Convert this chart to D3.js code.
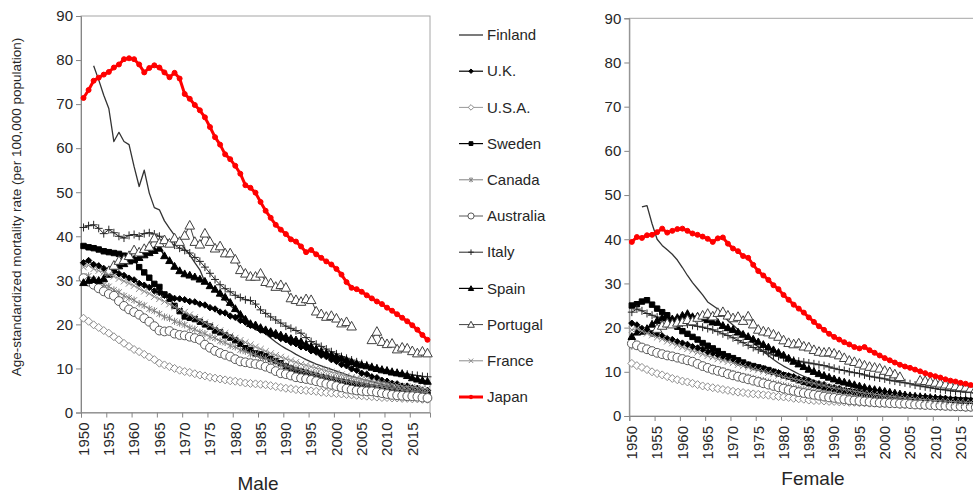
<!DOCTYPE html>
<html>
<head>
<meta charset="utf-8">
<script src="https://cdn.jsdelivr.net/npm/d3@7"></script>
<style>
  body { margin: 0; background: #fff; }
  text { font-family: "Liberation Sans", Arial, sans-serif; fill: #262626; }
</style>
</head>
<body>
<svg width="973" height="494"></svg>
<script>
// categories and tick labels
var years = d3.range(1950, 2019);
var yearLabels = [1950, 1955, 1960, 1965, 1970, 1975, 1980, 1985, 1990, 1995, 2000, 2005, 2010, 2015];
var yTicks = [0, 10, 20, 30, 40, 50, 60, 70, 80, 90];
var countries = ["Finland", "U.K.", "U.S.A.", "Sweden", "Canada", "Australia", "Italy", "Spain", "Portugal", "France", "Japan"];

// Male, 1950-2018
var finlandM = [null,null,78.7,75.5,72.0,69.0,61.5,63.6,61.5,60.8,
  55.8,51.3,55.0,49.8,46.5,46.0,43.5,41.8,40.2,38.8,
  37.2,35.8,34.0,32.4,29.6,28.8,27.8,26.5,25.5,24.3,
  23.3,22.0,20.5,19.8,19.3,18.8,17.8,16.9,16.0,15.2,
  14.5,13.9,13.2,12.6,12.0,11.5,11.0,10.6,10.2,9.8,
  9.4,9.0,8.6,8.2,7.9,7.6,7.3,7.0,6.7,6.4,
  6.1,5.9,5.6,5.4,5.2,5.0,4.8,4.7,4.5];
var ukM = [34.0,34.5,33.6,33.3,32.7,32.4,32.1,31.5,31.1,30.5,
  30.1,29.3,28.9,28.4,27.6,27.2,26.6,26.4,25.9,25.8,
  25.6,25.2,25.1,24.6,24.4,23.8,23.5,22.8,22.6,21.9,
  21.6,20.9,20.5,19.8,19.4,18.7,18.4,17.7,17.4,16.8,
  16.5,15.9,15.6,14.9,14.7,14.0,13.7,13.0,12.7,12.0,
  11.6,10.9,10.6,9.9,9.6,8.9,8.7,8.1,7.9,7.3,
  7.1,6.6,6.5,6.0,6.0,5.6,5.5,5.1,5.0];
var usaM = [21.4,20.7,19.9,19.3,18.6,18.0,17.2,16.5,15.7,15.0,
  14.3,13.8,13.2,12.6,12.0,11.2,10.8,10.4,10.0,9.6,
  9.3,9.1,8.8,8.5,8.3,8.0,7.8,7.6,7.4,7.2,
  7.1,6.9,6.7,6.6,6.5,6.4,6.3,6.1,5.9,5.7,
  5.5,5.4,5.2,5.1,5.0,4.9,4.8,4.6,4.5,4.4,
  4.3,4.2,4.1,4.0,3.9,3.8,3.7,3.6,3.5,3.4,
  3.4,3.3,3.3,3.2,3.2,3.1,3.1,3.0,3.0];
var swedenM = [37.8,37.5,37.3,37.0,36.6,36.4,36.2,36.0,35.6,35.4,
  34.6,33.0,31.8,30.6,29.2,28.5,26.8,25.8,24.2,23.0,
  21.8,21.5,21.2,20.6,20.0,19.5,18.6,18.2,17.5,17.0,
  16.4,15.6,14.6,14.2,13.4,13.2,12.8,12.2,11.7,11.2,
  10.5,10.0,9.6,9.3,9.0,8.6,8.3,8.0,7.8,7.5,
  7.2,7.0,6.8,6.5,6.3,6.1,5.9,5.7,5.5,5.4,
  5.2,5.0,4.9,4.7,4.6,4.5,4.4,4.3,4.2];
var canadaM = [30.5,31.0,30.2,29.8,29.0,28.6,27.8,27.3,26.5,26.0,
  25.5,24.7,24.3,23.5,23.1,22.4,21.7,21.4,20.7,20.3,
  19.9,19.2,18.9,18.2,17.9,17.2,16.9,16.2,15.9,15.2,
  14.9,14.2,13.9,13.3,13.1,12.5,12.3,11.7,11.5,10.9,
  10.7,10.2,10.0,9.6,9.4,9.0,8.8,8.4,8.2,7.9,
  7.7,7.4,7.2,7.0,6.8,6.6,6.4,6.1,6.0,5.8,
  5.6,5.4,5.3,5.1,5.0,4.8,4.7,4.6,4.5];
var australiaM = [30.5,29.7,29.0,28.2,27.5,26.9,26.5,25.3,24.2,23.4,
  22.8,22.2,21.4,20.6,19.6,18.6,18.4,18.5,17.9,17.6,
  17.5,17.2,16.9,16.5,15.4,14.7,14.0,13.5,13.1,12.7,
  12.1,11.6,11.4,11.2,11.0,10.8,10.4,10.0,9.4,8.9,
  8.7,8.4,8.0,7.8,7.6,7.4,7.1,6.8,6.5,6.3,
  6.0,5.7,5.4,5.2,5.0,4.9,4.8,4.8,4.6,4.4,
  4.2,4.0,3.9,3.8,3.7,3.7,3.6,3.4,3.3];
var italyM = [42.0,42.4,42.6,41.8,40.6,41.5,40.8,40.0,39.6,40.2,
  40.4,40.0,40.6,40.8,40.5,40.0,39.3,38.5,38.0,37.3,
  36.8,36.2,35.2,34.3,33.0,31.6,30.2,29.0,28.1,27.4,
  26.6,26.1,25.6,25.4,24.6,23.3,22.5,21.7,21.0,20.3,
  19.6,19.1,18.6,18.0,17.0,16.1,15.5,15.0,14.4,13.8,
  13.3,12.7,12.3,11.9,11.5,11.1,10.8,10.4,10.1,9.8,
  9.6,9.3,9.1,8.9,8.7,8.5,8.4,8.2,8.1];
var spainM = [29.5,30.0,30.2,30.0,30.4,31.4,32.5,33.3,33.8,34.4,
  34.8,35.2,35.8,36.3,36.8,37.3,35.6,34.5,33.2,32.2,
  31.5,31.2,30.8,30.3,29.8,28.8,28.0,27.1,26.2,25.0,
  23.6,22.3,21.2,20.2,19.9,19.3,18.8,18.4,18.0,17.6,
  17.2,16.8,16.5,16.1,15.5,15.0,14.4,13.9,13.5,13.1,
  12.7,12.3,11.9,11.5,11.1,10.8,10.6,10.3,10.0,9.7,
  9.5,9.2,9.0,8.8,8.4,7.9,7.6,7.3,7.1];
var portugalM = [null,null,null,null,null,32.2,33.4,34.5,34.7,35.6,
  36.9,36.4,37.2,37.7,39.6,38.5,39.2,38.4,39.6,38.8,
  40.2,42.5,38.8,38.2,40.7,38.8,37.3,37.8,36.2,36.2,
  34.8,32.4,31.6,30.9,30.9,31.6,29.7,29.4,28.6,29.0,
  28.4,26.0,25.6,25.2,25.8,25.6,23.0,22.4,21.8,22.0,
  21.4,20.3,20.6,19.6,null,null,null,16.5,18.4,16.1,
  15.6,15.7,14.4,14.8,14.6,14.0,13.5,13.9,13.5];
var franceM = [33.0,33.4,32.6,32.2,31.8,31.3,30.9,30.4,29.8,29.3,
  28.8,28.1,27.5,27.0,26.3,25.8,25.2,24.6,24.0,23.4,
  22.8,22.2,21.6,21.0,20.4,19.8,19.2,18.6,18.0,17.4,
  16.9,16.4,15.9,15.4,14.9,14.4,13.9,13.4,13.0,12.6,
  12.2,11.8,11.4,11.0,10.7,10.4,10.1,9.8,9.5,9.2,
  8.9,8.6,8.3,8.0,7.8,7.6,7.4,7.2,7.0,6.8,
  6.6,6.4,6.2,6.0,5.9,5.8,5.6,5.5,5.4];
var japanM = [71.4,73.2,75.3,76.0,76.7,77.3,78.3,79.0,80.2,80.4,
  80.2,79.0,77.2,78.2,78.8,78.3,77.2,76.1,77.1,75.8,
  72.3,71.2,69.8,68.6,67.0,64.8,62.5,60.8,58.6,57.5,
  56.0,54.2,51.6,51.0,49.9,47.8,45.8,44.2,42.6,41.5,
  40.5,39.3,38.8,37.7,36.4,36.9,35.9,35.1,34.3,33.6,
  32.6,31.3,29.6,28.3,28.0,27.4,26.6,25.9,25.2,24.6,
  23.8,23.1,22.3,21.5,20.7,19.8,18.8,17.6,16.5];

// Female, 1950-2018
var finlandF = [null,null,47.3,47.6,43.5,40.0,38.6,37.6,36.6,35.3,
  33.6,31.8,30.2,28.8,27.4,25.8,25.0,24.2,22.8,21.6,
  20.6,19.6,18.6,17.6,16.6,15.6,14.6,13.7,12.8,12.0,
  11.3,10.7,10.1,9.5,9.0,8.5,8.0,7.5,7.1,6.7,
  6.3,6.0,5.7,5.4,5.1,4.9,4.7,4.5,4.3,4.1,
  4.0,3.8,3.7,3.6,3.5,3.4,3.3,3.2,3.1,3.0,
  2.9,2.9,2.8,2.8,2.7,2.7,2.6,2.6,2.5];
var ukF = [21.0,20.6,19.8,19.4,18.7,18.4,18.1,17.5,17.3,16.8,
  16.5,16.2,15.7,15.4,15.1,14.5,14.2,13.9,13.3,13.0,
  12.7,12.1,11.9,11.6,11.1,10.9,10.7,10.2,10.0,9.8,
  9.3,9.1,8.9,8.4,8.2,8.0,7.5,7.3,7.1,6.6,
  6.4,6.2,5.7,5.6,5.4,5.0,4.9,4.8,4.4,4.3,
  4.2,3.9,3.9,3.8,3.6,3.6,3.5,3.3,3.3,3.2,
  3.2,3.1,3.1,3.0,3.0,2.9,2.9,2.8,2.8];
var usaF = [11.9,11.4,11.0,10.5,10.0,9.6,9.3,8.9,8.5,8.2,
  7.9,7.7,7.4,7.1,6.8,6.6,6.4,6.2,6.0,5.8,
  5.6,5.4,5.3,5.1,5.0,4.9,4.8,4.7,4.5,4.4,
  4.3,4.2,4.0,3.9,3.8,3.6,3.5,3.5,3.4,3.3,
  3.3,3.2,3.2,3.1,3.1,3.0,3.0,2.9,2.9,2.8,
  2.8,2.7,2.7,2.6,2.6,2.5,2.5,2.4,2.4,2.3,
  2.2,2.1,2.1,2.0,2.0,2.0,1.9,1.9,1.9];
var swedenF = [25.0,25.3,25.9,26.2,25.2,24.3,23.5,22.8,21.5,20.2,
  19.2,18.6,17.9,17.3,16.5,15.9,15.3,14.7,14.0,13.5,
  13.1,12.6,12.1,11.6,11.3,11.0,10.7,10.4,10.0,9.6,
  9.2,8.9,8.5,8.1,7.7,7.4,7.1,6.8,6.5,6.3,
  6.1,5.9,5.7,5.6,5.4,5.3,5.1,5.0,4.9,4.8,
  4.7,4.6,4.5,4.4,4.3,4.2,4.1,4.0,4.0,3.9,
  3.8,3.8,3.7,3.6,3.6,3.5,3.5,3.4,3.4];
var canadaF = [15.8,15.9,15.5,15.1,14.8,14.4,14.1,13.8,13.4,13.1,
  12.8,12.4,12.1,11.8,11.5,11.1,10.8,10.5,10.2,9.9,
  9.6,9.3,9.0,8.8,8.5,8.2,8.0,7.7,7.4,7.2,
  6.9,6.7,6.4,6.2,6.0,5.8,5.6,5.4,5.2,5.0,
  4.9,4.7,4.5,4.4,4.3,4.1,4.0,3.9,3.8,3.7,
  3.6,3.5,3.4,3.3,3.2,3.1,3.0,3.0,2.9,2.8,
  2.8,2.7,2.7,2.6,2.6,2.5,2.5,2.4,2.4];
var australiaF = [16.4,16.0,15.5,15.1,14.7,14.3,14.0,13.7,13.5,13.2,
  12.9,12.6,12.3,11.8,11.3,10.9,10.5,10.2,9.9,9.5,
  9.2,8.9,8.6,8.3,8.0,7.7,7.4,7.1,6.8,6.5,
  6.2,5.9,5.7,5.4,5.2,5.0,4.8,4.6,4.4,4.2,
  4.1,3.9,3.8,3.6,3.5,3.4,3.3,3.2,3.1,3.0,
  3.0,2.9,2.9,2.8,2.8,2.7,2.6,2.6,2.5,2.5,
  2.4,2.4,2.3,2.3,2.2,2.2,2.1,2.1,2.0];
var italyF = [23.5,24.2,23.8,23.2,22.8,22.4,22.1,21.7,21.5,21.2,
  21.0,20.8,20.5,20.3,20.1,19.8,19.5,19.1,18.6,18.2,
  17.7,17.1,16.6,16.0,15.5,15.0,14.6,14.2,13.8,13.5,
  13.2,12.9,12.6,12.4,12.2,12.0,11.8,11.6,11.4,11.1,
  10.8,10.5,10.3,10.0,9.8,9.6,9.3,9.0,8.8,8.6,
  8.4,8.1,7.9,7.7,7.5,7.3,7.0,6.8,6.6,6.4,
  6.2,6.0,5.9,5.7,5.6,5.5,5.4,5.3,5.2];
var spainF = [18.0,19.0,19.2,19.8,20.8,21.6,22.2,22.6,22.0,22.3,
  22.8,23.2,22.5,22.6,22.2,21.8,21.3,21.2,20.5,20.0,
  19.6,19.0,18.5,18.0,17.4,16.8,16.2,15.6,15.0,14.4,
  13.8,13.1,12.4,11.8,11.2,10.6,10.1,9.6,9.2,8.8,
  8.4,8.0,7.7,7.4,7.1,6.8,6.5,6.2,6.0,5.8,
  5.6,5.4,5.2,5.0,4.8,4.6,4.5,4.4,4.3,4.2,
  4.1,4.0,3.9,3.8,3.7,3.6,3.6,3.5,3.5];
var portugalF = [null,null,null,null,null,19.8,20.5,21.0,20.8,21.2,
  21.3,21.8,21.5,22.3,22.8,23.2,22.6,23.4,23.6,22.8,
  22.2,22.5,21.6,22.6,20.8,19.6,19.2,19.0,18.5,18.0,
  17.2,16.6,16.3,16.5,15.8,15.6,15.0,14.6,14.4,14.5,
  14.2,13.8,13.2,12.6,12.3,11.9,11.5,11.2,11.0,10.8,
  10.3,10.0,9.5,8.9,null,null,null,8.1,8.0,7.8,
  7.6,7.4,7.2,7.0,6.8,6.6,6.5,6.3,6.2];
var franceF = [19.5,19.8,19.2,18.7,18.3,17.8,17.4,16.9,16.5,16.0,
  15.6,15.2,14.8,14.4,14.0,13.6,13.3,12.9,12.6,12.3,
  12.0,11.6,11.3,11.0,10.7,10.4,10.1,9.8,9.5,9.2,
  8.9,8.6,8.4,8.1,7.9,7.6,7.4,7.1,6.9,6.6,
  6.4,6.2,6.0,5.8,5.6,5.4,5.2,5.1,4.9,4.8,
  4.6,4.5,4.4,4.2,4.1,4.0,3.9,3.8,3.7,3.6,
  3.5,3.4,3.4,3.3,3.2,3.2,3.1,3.1,3.0];
var japanF = [39.4,40.5,40.3,40.9,41.0,41.6,42.4,41.5,41.9,42.3,
  42.4,41.9,41.3,41.0,40.6,40.1,39.4,40.2,40.4,39.0,
  37.9,37.3,36.2,35.8,34.2,32.8,31.8,30.8,29.6,28.7,
  27.4,26.3,25.2,24.3,23.4,22.3,21.3,20.3,19.5,18.6,
  17.9,17.3,16.7,16.2,15.6,15.3,15.6,14.9,14.3,13.7,
  13.1,12.6,12.1,11.6,11.2,10.9,10.5,10.1,9.7,9.3,
  9.0,8.7,8.3,8.0,7.8,7.5,7.3,7.0,6.7];

var male = [finlandM, ukM, usaM, swedenM, canadaM, australiaM, italyM, spainM, portugalM, franceM, japanM];
var female = [finlandF, ukF, usaF, swedenF, canadaF, australiaF, italyF, spainF, portugalF, franceF, japanF];

// marker shapes, r = half size
var shapes = {
  diamond: function(r) { return "M0," + (-r) + "L" + r + ",0L0," + r + "L" + (-r) + ",0Z"; },
  square: function(r) { return "M" + (-r) + "," + (-r) + "h" + 2*r + "v" + 2*r + "h" + (-2*r) + "Z"; },
  triangle: function(r) { return "M0," + (-r) + "L" + r + "," + 0.8*r + "L" + (-r) + "," + 0.8*r + "Z"; },
  circle: function(r) { return "M" + r + ",0A" + r + "," + r + " 0 1,1 " + (-r) + ",0A" + r + "," + r + " 0 1,1 " + r + ",0Z"; },
  plus: function(r) { return "M" + (-r) + ",0H" + r + "M0," + (-r) + "V" + r; },
  cross: function(r) { return "M" + (-r) + "," + (-r) + "L" + r + "," + r + "M" + (-r) + "," + r + "L" + r + "," + (-r); },
  star: function(r) { var a = r * 0.8; return "M" + (-a) + "," + (-a) + "L" + a + "," + a + "M" + (-a) + "," + a + "L" + a + "," + (-a) + "M0," + (-r) + "V" + r; }
};

var styles = [
  { line: "#333333", lw: 1.3 },
  { line: "#000000", lw: 1.2, shape: "diamond", r: 3.2, fill: "#000", stroke: "#000" },
  { line: "#999999", lw: 1, shape: "diamond", r: 4, fill: "#fff", stroke: "#8c8c8c" },
  { line: "#000000", lw: 1.2, shape: "square", r: 2.7, fill: "#000", stroke: "#000" },
  { line: "#808080", lw: 1, shape: "star", r: 3.6, fill: "none", stroke: "#808080" },
  { line: "#595959", lw: 1, shape: "circle", r: 4.4, fill: "#fff", stroke: "#595959" },
  { line: "#262626", lw: 1, shape: "plus", r: 4, fill: "none", stroke: "#262626" },
  { line: "#000000", lw: 1.2, shape: "triangle", r: 3.8, fill: "#000", stroke: "#000" },
  { line: "#404040", lw: 1, shape: "triangle", r: 4.8, fill: "#fff", stroke: "#404040" },
  { line: "#8c8c8c", lw: 1, shape: "cross", r: 3.2, fill: "none", stroke: "#8c8c8c" },
  { line: "#ff0000", lw: 3, shape: "circle", r: 2.5, fill: "#ff0000", stroke: "#ff0000" }
];

var svg = d3.select("svg");

function drawPanel(p, data, title) {
  var x = d3.scaleLinear().domain([1949.5, 2018.5]).range([p.left, p.left + 349]);
  var y = d3.scaleLinear().domain([0, 90]).range([p.bottom, p.top]);
  var g = svg.append("g");

  // plot area frame
  g.append("rect")
    .attr("x", p.left).attr("y", p.top)
    .attr("width", 349).attr("height", p.bottom - p.top)
    .attr("fill", "none").attr("stroke", "#a6a6a6").attr("stroke-width", 1);

  // y axis
  var ya = g.append("g")
    .attr("transform", "translate(" + p.left + ",0)")
    .call(d3.axisLeft(y).tickValues(yTicks).tickSize(5).tickPadding(3));
  ya.selectAll("path, line").attr("stroke", "#868686");
  ya.selectAll("text").style("font-size", "15px").attr("fill", "#262626");

  // x axis, ticks between categories
  var xa = g.append("g")
    .attr("transform", "translate(0," + p.bottom + ")")
    .call(d3.axisBottom(x).tickValues(yearLabels.map(function(d) { return d - 0.5; })).tickSize(5).tickFormat(""));
  xa.selectAll("path, line").attr("stroke", "#868686");

  g.selectAll(".xl")
    .data(yearLabels)
    .enter()
    .append("text")
      .attr("transform", function(d) { return "translate(" + x(d) + "," + (p.bottom + 10) + ") rotate(-90)"; })
      .attr("text-anchor", "end")
      .attr("dy", "0.35em")
      .style("font-size", "15px")
      .text(function(d) { return d; });

  // series
  data.forEach(function(vals, i) {
    var s = styles[i];
    var pts = years.map(function(yr, j) { return { yr: yr, v: vals[j] }; });
    var line = d3.line()
      .defined(function(d) { return d.v != null; })
      .x(function(d) { return x(d.yr); })
      .y(function(d) { return y(d.v); });
    g.append("path")
      .datum(pts)
      .attr("d", line)
      .attr("fill", "none")
      .attr("stroke", s.line)
      .attr("stroke-width", s.lw)
      .attr("stroke-linejoin", "round");
    if (s.shape) {
      g.selectAll(null)
        .data(pts.filter(function(d) { return d.v != null; }))
        .enter()
        .append("path")
          .attr("transform", function(d) { return "translate(" + x(d.yr) + "," + y(d.v) + ")"; })
          .attr("d", shapes[s.shape](s.r))
          .attr("fill", s.fill)
          .attr("stroke", s.stroke)
          .attr("stroke-width", 1);
    }
  });

  g.append("text")
    .attr("x", p.titleX).attr("y", p.titleY)
    .attr("text-anchor", "middle")
    .style("font-size", "19px")
    .text(title);
}

drawPanel({ left: 81, top: 16, bottom: 412.5, titleX: 258, titleY: 490 }, male, "Male");
drawPanel({ left: 629.3, top: 18.3, bottom: 416, titleX: 813, titleY: 485 }, female, "Female");

// y axis title
svg.append("text")
  .attr("transform", "translate(21,207) rotate(-90)")
  .attr("text-anchor", "middle")
  .style("font-size", "13.5px")
  .text("Age-standardized mortality rate (per 100,000 population)");

// legend
var legend = svg.append("g");
countries.forEach(function(c, i) {
  var s = styles[i];
  var ly = 35 + i * 36.2;
  legend.append("line")
    .attr("x1", 459).attr("x2", 483).attr("y1", ly).attr("y2", ly)
    .attr("stroke", s.line).attr("stroke-width", s.lw);
  if (s.shape) {
    legend.append("path")
      .attr("transform", "translate(471," + ly + ")")
      .attr("d", shapes[s.shape](s.r * 0.7))
      .attr("fill", s.fill).attr("stroke", s.stroke).attr("stroke-width", 1);
  }
  legend.append("text")
    .attr("x", 487).attr("y", ly).attr("dy", "0.35em")
    .style("font-size", "15px")
    .text(c);
});
</script>
</body>
</html>
